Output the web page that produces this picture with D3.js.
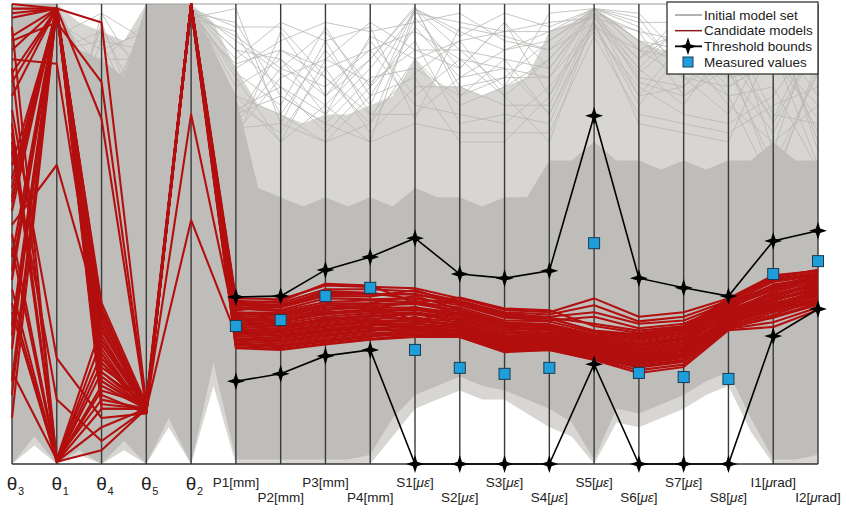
<!DOCTYPE html>
<html>
<head>
<meta charset="utf-8">
<script src="https://cdn.jsdelivr.net/npm/d3@7"></script>
<style>
body { margin: 0; background: #fff; }
svg { display: block; font-family: "Liberation Sans", Arial, sans-serif; }
</style>
</head>
<body>
<svg id="chart" width="841" height="509"></svg>
<script>
// axes, left to right
const axisKeys = ["θ3","θ1","θ4","θ5","θ2","P1","P2","P3","P4","S1","S2","S3","S4","S5","S6","S7","S8","I1","I2"]
const axisUnits = ["","","","","","mm","mm","mm","mm","με","με","με","με","με","με","με","με","μrad","μrad"]

// response axes that carry threshold bounds and measurements
const respKeys = axisKeys.slice(5)
const upperBound = [36.3, 36.5, 42.2, 45.0, 49.1, 41.3, 40.4, 42.0, 75.7, 40.4, 38.3, 36.5, 48.5, 50.7]
const lowerBound = [18.0, 19.6, 23.5, 24.8, 0, 0, 0, 0, 21.7, 0, 0, 0, 27.8, 33.7]
const measured   = [30.0, 31.3, 36.5, 38.3, 24.8, 20.9, 19.6, 20.9, 48.0, 19.8, 18.9, 18.5, 41.3, 44.1]

// initial model set: envelope of the dense bundle (values on axes and between axes)
const denseTopAxis = [100, 100, 88, 100, 100, 80, 58, 58, 58, 60, 58, 58, 66, 70, 66, 66, 66, 70, 66]
const denseTopMid  = [100, 90, 84, 100, 90, 60, 56, 56, 56, 58, 56, 58, 66, 66, 64, 64, 66, 66]
const denseBotAxis = [0, 0, 0, 0, 0, 1, 1, 1, 2, 15, 19, 16, 12, 1, 11, 15, 20, 1, 2]
const denseBotMid  = [6, 3, 5, 10, 22, 1, 1, 1, 10, 17, 17, 14, 9, 12, 13, 18, 10, 1]
const sparseTopAxis = [100, 100, 94, 100, 100, 86, 76, 76, 78, 88, 82, 82, 94, 99, 92, 90, 92, 94, 90]
const sparseTopMid  = [100, 96, 92, 100, 96, 78, 74, 76, 80, 82, 80, 84, 96, 96, 90, 90, 92, 92]
const sparseBotAxis = [0, 0, 0, 0, 0, 0, 0, 0, 0, 12, 16, 14, 8, 0, 8, 12, 17, 0, 0]
const sparseBotMid  = [4, 2, 3, 8, 17, 0, 0, 0, 6, 14, 14, 11, 6, 9, 10, 15, 7, 0]

// initial model set: individual models visible outside the dense bundle
const initialModels = [
  [70, 95, 60, 85, 98, 96, 80, 74, 70, 99, 90, 88, 86, 99, 92, 90, 88, 75, 95],
  [40, 90, 92, 70, 99, 88, 96, 92, 95, 75, 95, 93, 90, 96, 85, 93, 91, 97, 70],
  [85, 60, 98, 92, 97, 80, 70, 88, 83, 90, 86, 96, 80, 99, 95, 86, 80, 60, 88],
  [20, 98, 75, 60, 99, 92, 85, 78, 88, 99.5, 80, 84, 92, 98, 80, 82, 94, 90, 65],
  [55, 85, 88, 96, 96, 75, 90, 84, 76, 85, 92, 80, 70, 97, 88, 95, 85, 72, 92],
  [90, 75, 65, 80, 99, 85, 78, 95, 80, 95, 84, 90, 94, 99, 97, 84, 76, 94, 80],
  [30, 99, 80, 90, 98, 70, 94, 80, 92, 80, 88, 86, 84, 95, 90, 88, 96, 85, 97],
  [65, 70, 95, 75, 97, 99, 74, 70, 74, 88, 78, 82, 88, 99, 83, 80, 86, 65, 85],
  [45, 92, 70, 88, 99, 82, 88, 76, 86, 98, 96, 94, 96, 97, 94, 92, 82, 88, 75],
  [80, 80, 85, 65, 98, 78, 72, 86, 72, 82, 82, 78, 78, 98, 86, 78, 92, 96, 90],
  [10, 96, 90, 94, 99, 90, 82, 72, 82, 92, 74, 76, 74, 96, 78, 90, 78, 70, 78],
  [60, 88, 78, 84, 97, 94, 76, 90, 78, 99, 93, 98, 95, 99, 96, 96, 93, 92, 72],
  [35, 65, 96, 70, 99, 74, 86, 82, 90, 78, 76, 74, 82, 94, 82, 76, 74, 80, 94],
  [95, 94, 72, 98, 98, 86, 92, 96, 94, 96, 98, 92, 90, 99, 90, 94, 88, 62, 86],
  [50, 82, 84, 78, 96, 76, 80, 74, 84, 86, 80, 88, 76, 97, 84, 82, 90, 98, 68],
  [75, 90, 94, 86, 99, 84, 70, 78, 70, 74, 72, 72, 72, 93, 76, 74, 72, 78, 82],
  [25, 78, 68, 92, 97, 72, 84, 88, 96, 90, 90, 82, 98, 99, 98, 88, 84, 86, 96],
  [88, 86, 82, 72, 99, 95, 95, 84, 74, 97, 86, 96, 86, 98, 88, 98, 95, 76, 74],
  [15, 93, 98, 82, 98, 80, 76, 70, 80, 84, 70, 70, 80, 96, 74, 72, 70, 92, 88],
  [58, 72, 76, 96, 99, 90, 88, 80, 88, 99, 94, 90, 92, 99, 92, 86, 98, 68, 98],
  [42, 97, 86, 68, 98, 73, 74, 92, 76, 76, 84, 86, 76, 95, 80, 92, 80, 82, 64],
  [92, 68, 92, 90, 96, 87, 90, 86, 90, 94, 88, 80, 88, 98, 94, 80, 88, 100, 84],
  [68, 99, 66, 76, 99, 77, 82, 76, 93, 88, 92, 94, 94, 97, 86, 96, 92, 74, 92],
  [5, 84, 88, 88, 98, 93, 86, 94, 82, 99, 82, 84, 84, 99, 90, 84, 82, 88, 78]
]

// candidate models
const candidateModels = [
  [99, 99, 30, 12, 100, 36.0, 35.8, 38.8, 38.5, 38.2, 36.0, 33.5, 33.0, 36.0, 32.0, 33.0, 36.0, 41.0, 42.0],
  [98, 99, 22, 12, 99, 35.5, 35.0, 38.0, 38.0, 37.5, 35.5, 33.0, 32.5, 34.5, 31.0, 32.0, 35.5, 40.2, 41.6],
  [95, 0.5, 16, 13, 100, 35.0, 34.6, 37.2, 37.0, 36.8, 35.2, 32.5, 32.0, 33.0, 30.5, 31.2, 35.0, 39.6, 41.0],
  [88, 87, 25, 11, 99, 34.6, 34.0, 36.5, 36.4, 37.8, 34.8, 32.0, 31.6, 29.0, 28.2, 29.5, 36.0, 40.5, 42.2],
  [80, 99, 33, 12, 100, 34.2, 33.5, 36.0, 35.8, 36.0, 34.5, 31.8, 31.2, 32.0, 29.5, 30.5, 34.5, 39.0, 40.5],
  [72, 0.5, 8, 12, 100, 33.8, 33.2, 35.2, 35.6, 35.2, 34.0, 31.2, 31.0, 28.6, 27.8, 29.0, 35.2, 38.5, 40.0],
  [65, 98, 20, 13, 99, 33.0, 32.8, 34.8, 35.0, 36.5, 33.6, 30.8, 30.4, 28.2, 27.5, 28.6, 34.8, 39.8, 41.2],
  [58, 99, 28, 12, 100, 32.6, 32.2, 34.0, 34.4, 34.8, 33.2, 30.5, 30.0, 27.8, 27.0, 28.4, 34.2, 37.8, 39.6],
  [50, 1, 24, 11, 100, 32.2, 31.8, 33.6, 34.0, 34.0, 32.8, 30.0, 29.8, 27.5, 26.6, 28.0, 33.8, 38.2, 40.6],
  [45, 99, 18, 12, 99, 31.8, 31.4, 33.0, 33.6, 35.5, 32.5, 29.6, 29.4, 27.2, 26.2, 27.6, 33.5, 37.0, 39.0],
  [40, 98, 35, 13, 100, 31.4, 31.0, 32.5, 33.2, 33.5, 32.2, 29.4, 29.0, 26.9, 25.8, 27.2, 33.0, 36.6, 38.6],
  [35, 0.5, 12, 12, 100, 31.0, 30.6, 32.0, 32.8, 33.0, 31.8, 29.0, 28.6, 26.6, 25.5, 26.9, 33.2, 37.4, 39.8],
  [30, 99, 26, 12, 99, 30.6, 30.2, 31.5, 32.4, 34.2, 31.5, 28.6, 28.3, 26.3, 25.1, 26.5, 32.6, 36.0, 38.2],
  [25, 99, 15, 11, 100, 30.2, 29.8, 31.0, 32.0, 32.5, 31.2, 28.4, 28.0, 26.0, 24.8, 26.2, 32.2, 35.6, 37.8],
  [20, 1, 30, 12, 76, 29.8, 29.4, 30.6, 31.6, 31.8, 30.8, 28.0, 27.6, 25.8, 24.5, 25.8, 32.8, 36.2, 39.2],
  [85, 99, 96, 13, 100, 29.4, 29.0, 30.2, 31.2, 33.0, 30.5, 27.6, 27.3, 25.5, 24.2, 25.5, 31.8, 35.0, 37.2],
  [92, 96, 83, 12, 99, 29.0, 28.6, 29.8, 30.8, 31.0, 30.2, 27.3, 27.0, 25.2, 23.8, 25.2, 31.5, 34.6, 36.8],
  [70, 0.5, 20, 12, 100, 28.6, 28.2, 29.4, 30.4, 30.5, 29.8, 27.0, 26.7, 25.0, 23.5, 24.9, 32.0, 35.4, 38.4],
  [60, 99, 75, 12, 53, 28.2, 27.8, 29.0, 30.0, 32.0, 29.5, 26.6, 26.4, 24.7, 23.2, 24.6, 31.2, 34.2, 36.4],
  [52, 65, 31, 13, 100, 27.8, 27.4, 28.6, 29.6, 29.8, 29.2, 26.3, 26.1, 24.4, 22.9, 24.2, 30.8, 33.8, 36.0],
  [100, 99, 19, 12, 100, 27.4, 27.0, 28.2, 29.2, 29.4, 28.9, 26.0, 25.8, 24.1, 22.6, 23.9, 31.4, 34.8, 37.6],
  [77, 23, 10, 11, 100, 27.0, 26.6, 27.8, 28.8, 30.8, 28.6, 25.7, 25.5, 23.8, 22.2, 23.5, 30.5, 33.4, 35.6],
  [15, 99, 23, 12, 99, 26.6, 26.2, 27.4, 28.4, 28.8, 28.3, 25.4, 25.3, 23.5, 21.8, 23.0, 30.0, 33.0, 35.2],
  [68, 14, 5, 12, 100, 26.2, 25.8, 27.0, 28.0, 28.4, 28.0, 25.1, 25.0, 23.2, 21.4, 22.6, 30.2, 32.4, 35.8],
  [55, 99, 29, 13, 100, 25.8, 25.4, 26.6, 27.6, 29.5, 27.8, 24.8, 24.9, 23.0, 21.0, 22.2, 29.6, 31.8, 34.6],
  [38, 0.5, 17, 12, 99, 25.4, 25.0, 26.2, 27.2, 28.0, 27.6, 24.5, 24.8, 22.8, 20.4, 21.6, 29.4, 30.8, 34.0],
  [90, 99, 13, 12, 100, 25.2, 24.8, 26.0, 27.0, 27.6, 27.6, 24.3, 24.8, 22.6, 19.8, 21.1, 29.1, 29.8, 33.5],
  [28, 99, 32, 11, 100, 33.4, 34.4, 37.6, 37.2, 35.8, 35.0, 32.8, 31.8, 30.5, 29.0, 30.0, 34.0, 38.8, 40.8],
  [47, 0.5, 27, 12, 100, 30.0, 31.2, 33.4, 34.6, 31.2, 33.0, 30.2, 29.6, 26.8, 25.0, 26.4, 33.6, 36.8, 39.4],
  [83, 99, 21, 14, 100, 28.0, 29.2, 31.8, 31.0, 29.0, 30.0, 27.8, 27.8, 24.6, 22.0, 23.2, 32.4, 35.8, 38.0],
  [62, 99, 12, 12, 100, 26.8, 27.6, 28.8, 29.8, 28.2, 29.0, 26.8, 26.0, 23.4, 21.2, 22.4, 31.0, 34.0, 36.6],
  [33, 0.5, 3, 12, 99, 35.2, 35.4, 39.2, 38.8, 35.0, 36.2, 33.8, 33.4, 30.0, 28.5, 29.8, 35.8, 40.8, 42.0],
  [97, 99, 34, 12, 100, 34.8, 34.3, 36.8, 36.8, 37.0, 35.0, 32.2, 31.8, 28.8, 28.0, 29.2, 35.6, 40.0, 41.4],
  [18, 99, 27, 13, 100, 32.9, 32.5, 34.4, 34.8, 35.0, 33.4, 30.6, 30.2, 28.0, 27.2, 28.5, 34.4, 38.0, 40.2],
  [74, 0.5, 22, 12, 99, 31.6, 31.2, 32.8, 33.4, 33.8, 32.4, 29.5, 29.2, 27.0, 26.0, 27.4, 33.3, 36.8, 38.8],
  [42, 99, 24, 11, 100, 30.4, 30.0, 31.2, 32.2, 32.8, 31.3, 28.5, 28.1, 26.1, 25.0, 26.4, 32.4, 35.8, 38.0],
  [86, 1, 14, 12, 100, 29.2, 28.8, 30.0, 31.0, 31.4, 30.3, 27.4, 27.1, 25.3, 24.0, 25.3, 31.6, 34.8, 37.0],
  [10, 99, 33, 13, 99, 28.4, 28.0, 29.2, 30.2, 30.0, 29.6, 26.8, 26.5, 24.8, 23.3, 24.7, 31.3, 34.4, 37.0],
  [57, 99, 18, 12, 100, 27.2, 26.8, 28.0, 29.0, 29.2, 28.7, 25.8, 25.6, 23.9, 22.4, 23.7, 30.6, 33.6, 35.9],
  [93, 99, 26, 12, 100, 26.0, 25.6, 26.8, 27.8, 28.2, 27.9, 25.0, 24.9, 23.1, 21.2, 22.4, 29.8, 32.0, 35.0]
]

const legendItems = ["Initial model set", "Candidate models", "Threshold bounds", "Measured values"]

var svg = d3.select("#chart")

var x = d3.scalePoint().domain(axisKeys).range([12, 818])
var y = d3.scaleLinear().domain([0, 100]).range([464, 4])

// four pointed star used for the bounds
const star4 = {
  draw(ctx, r) {
    const w = r * 0.24
    ctx.moveTo(0, -r); ctx.lineTo(w, -w); ctx.lineTo(r, 0); ctx.lineTo(w, w)
    ctx.lineTo(0, r); ctx.lineTo(-w, w); ctx.lineTo(-r, 0); ctx.lineTo(-w, -w)
    ctx.closePath()
  }
}

// build envelope points on axes and half way between them
function envelope(topAxis, topMid, botAxis, botMid) {
  var pts = []
  axisKeys.forEach((k, i) => {
    pts.push({ x: x(k), top: topAxis[i], bot: botAxis[i] })
    if (i < axisKeys.length - 1)
      pts.push({ x: (x(k) + x(axisKeys[i + 1])) / 2, top: topMid[i], bot: botMid[i] })
  })
  return pts
}
var area = d3.area().x(d => d.x).y0(d => y(d.bot)).y1(d => y(d.top))

svg.append("path")
  .attr("d", area(envelope(sparseTopAxis, sparseTopMid, sparseBotAxis, sparseBotMid)))
  .attr("fill", "#d7d6d3")

var modelLine = d3.line().x((d, i) => x(axisKeys[i])).y(d => y(d))

svg.append("g").selectAll("path").data(initialModels).enter().append("path")
  .attr("d", modelLine)
  .attr("fill", "none")
  .attr("stroke", "#b9b7b4")
  .attr("stroke-width", 0.8)

svg.append("path")
  .attr("d", area(envelope(denseTopAxis, denseTopMid, denseBotAxis, denseBotMid)))
  .attr("fill", "#bfbdba")

// frame lines
svg.append("line")
  .attr("x1", x(axisKeys[0])).attr("x2", x(axisKeys[axisKeys.length - 1]))
  .attr("y1", y(100)).attr("y2", y(100))
  .attr("stroke", "#9a9a9a").attr("stroke-width", 1)

// axes
svg.append("g").selectAll("line").data(axisKeys).enter().append("line")
  .attr("x1", d => x(d)).attr("x2", d => x(d))
  .attr("y1", y(100)).attr("y2", y(0))
  .attr("stroke", "#3a3a3a")
  .attr("stroke-width", 1.4)

svg.append("line")
  .attr("x1", x(axisKeys[0])).attr("x2", x(axisKeys[axisKeys.length - 1]))
  .attr("y1", y(0)).attr("y2", y(0))
  .attr("stroke", "#333").attr("stroke-width", 1.4)

// candidate models
svg.append("g").selectAll("path").data(candidateModels).enter().append("path")
  .attr("d", modelLine)
  .attr("fill", "none")
  .attr("stroke", "#b30f0f")
  .attr("stroke-width", 2.1)
  .attr("stroke-linejoin", "round")

// threshold bounds
var boundLine = d3.line().x((d, i) => x(respKeys[i])).y(d => y(d))
var bounds = [upperBound, lowerBound]
svg.append("g").selectAll("path").data(bounds).enter().append("path")
  .attr("d", boundLine)
  .attr("fill", "none")
  .attr("stroke", "#000")
  .attr("stroke-width", 1.6)

bounds.forEach(b => {
  svg.append("g").selectAll("path").data(b).enter().append("path")
    .attr("d", d3.symbol(star4, 9))
    .attr("transform", (d, i) => "translate(" + x(respKeys[i]) + "," + y(d) + ")")
    .attr("fill", "#000")
})

// measured values
svg.append("g").selectAll("rect").data(measured).enter().append("rect")
  .attr("x", (d, i) => x(respKeys[i]) - 5.5)
  .attr("y", d => y(d) - 5.5)
  .attr("width", 11)
  .attr("height", 11)
  .attr("fill", "#1e9fdb")
  .attr("stroke", "#1c3a50")
  .attr("stroke-width", 1)

// axis labels
var labels = svg.append("g")
axisKeys.forEach((k, i) => {
  var xp = x(k)
  if (k[0] === "θ") {
    labels.append("text").attr("x", xp).attr("y", 490)
      .attr("text-anchor", "middle").attr("font-size", 19).attr("fill", "#222")
      .text("θ")
    labels.append("text").attr("x", xp + 6).attr("y", 495)
      .attr("font-size", 11).attr("fill", "#222")
      .text(k.slice(1))
    return
  }
  var row = (i - 5) % 2 === 0 ? 487 : 502
  var t = labels.append("text").attr("x", xp).attr("y", row)
    .attr("text-anchor", "middle").attr("font-size", 13.5).attr("fill", "#222")
  t.append("tspan").text(k + "[")
  var u = axisUnits[i]
  var greek = u.match(/^[με]+/)
  if (greek) {
    t.append("tspan").attr("font-style", "italic").text(greek[0])
    u = u.slice(greek[0].length)
  }
  t.append("tspan").text(u + "]")
})

// legend
var legend = svg.append("g")
legend.append("rect")
  .attr("x", 667).attr("y", 2).attr("width", 151).attr("height", 72)
  .attr("fill", "#fff").attr("stroke", "#333").attr("stroke-width", 1.3)

var rowY = d3.scalePoint().domain(legendItems).range([15, 62])
var sample = legend.selectAll("g.item").data(legendItems).enter().append("g")
  .attr("class", "item")
  .attr("transform", d => "translate(0," + rowY(d) + ")")
sample.append("text")
  .attr("x", 704).attr("y", 0).attr("dy", "0.35em")
  .attr("font-size", 13.5).attr("fill", "#222")
  .text(d => d)

sample.filter((d, i) => i < 3).append("line")
  .attr("x1", 675).attr("x2", 702)
  .attr("stroke", (d, i) => ["#999", "#8e1a1a", "#000"][i])
  .attr("stroke-width", (d, i) => i === 2 ? 1.8 : 1.5)
sample.filter((d, i) => i === 2).append("path")
  .attr("d", d3.symbol(star4, 9))
  .attr("transform", "translate(688,0)")
sample.filter((d, i) => i === 3).append("rect")
  .attr("x", 683).attr("y", -5).attr("width", 10).attr("height", 10)
  .attr("fill", "#1e9fdb").attr("stroke", "#1c3a50")
</script>
</body>
</html>
